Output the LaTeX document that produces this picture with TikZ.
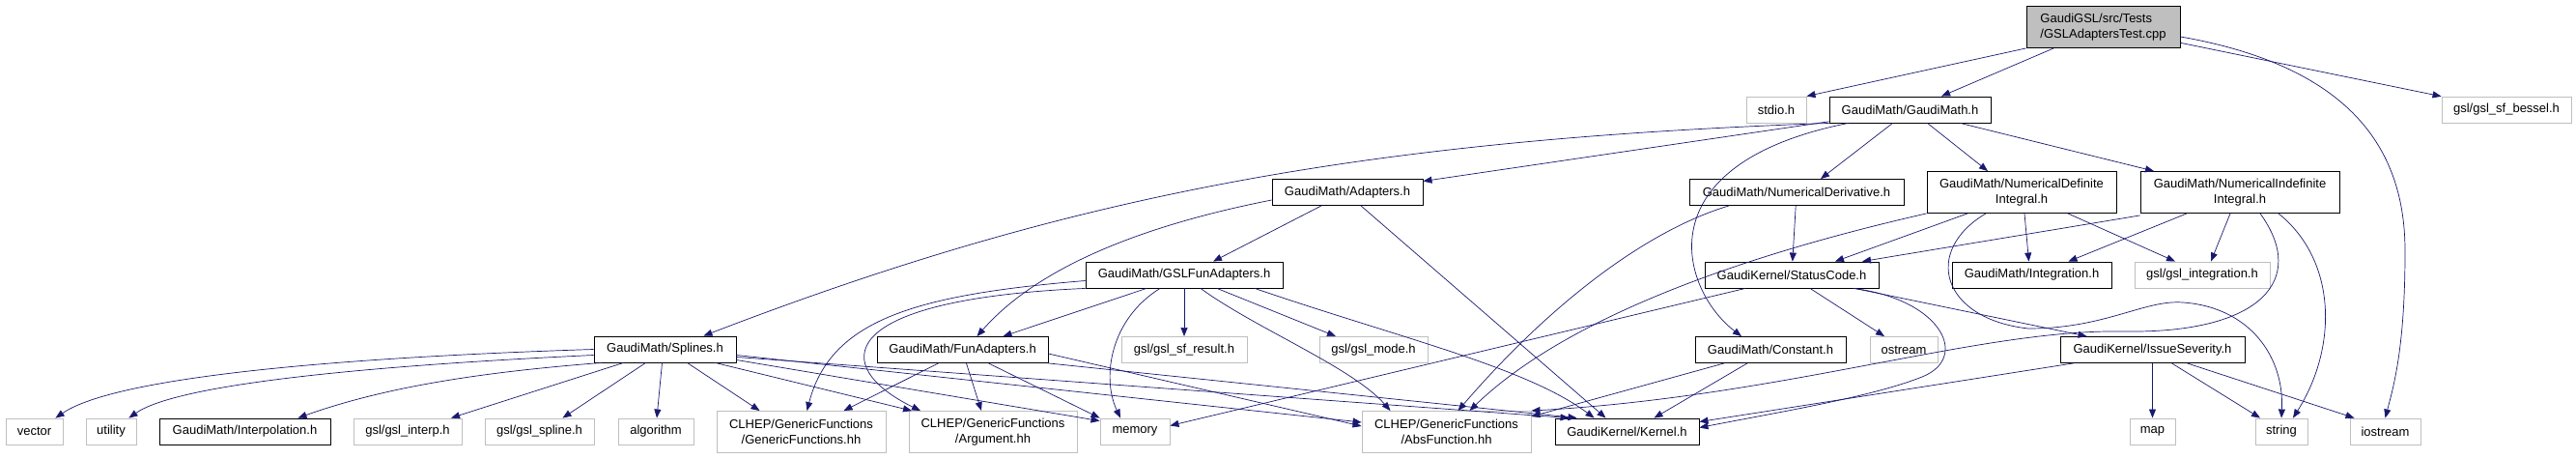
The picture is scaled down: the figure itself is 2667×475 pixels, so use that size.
\documentclass[tikz,border=0pt]{standalone}
\usepackage{fontspec}
\setmainfont{Liberation Sans}
\usepackage{tikz}
\usetikzlibrary{arrows.meta}
\definecolor{edgeblue}{HTML}{191970}
\definecolor{extgray}{HTML}{BFBFBF}

\begin{document}
\begin{tikzpicture}[x=1bp,y=-1bp]
\tikzset{file/.style={draw=black,line width=0.9bp,inner sep=0pt,minimum height=27bp,align=center,font=\fontsize{13bp}{16bp}\selectfont}}
\tikzset{twoline/.style={minimum height=43bp}}
\tikzset{sysfile/.style={file,draw=extgray}}
\tikzset{inc/.style={draw=edgeblue,line width=0.7bp,-{Triangle[length=9bp,width=7bp]}}}
\useasboundingbox (0,0) rectangle (2667,475);
\node[file,twoline,fill=extgray,minimum width=159bp,align=left] (cpp) at (2177.5,28) {GaudiGSL/src/Tests\\/GSLAdaptersTest.cpp};
\node[sysfile,minimum width=62bp] (stdio) at (1839,113.5) {stdio.h};
\node[file,minimum width=167bp] (gaudimath) at (1977.5,113.5) {GaudiMath/GaudiMath.h};
\node[sysfile,minimum width=134bp] (bessel) at (2595,113.5) {gsl/gsl\_sf\_bessel.h};
\node[file,minimum width=156bp] (adapters) at (1395,199) {GaudiMath/Adapters.h};
\node[file,minimum width=222bp] (numderiv) at (1860,199) {GaudiMath/NumericalDerivative.h};
\node[file,twoline,minimum width=196bp] (numdef) at (2093,199) {GaudiMath/NumericalDefinite\\Integral.h};
\node[file,twoline,minimum width=206bp] (numindef) at (2319,199) {GaudiMath/NumericalIndefinite\\Integral.h};
\node[file,minimum width=204bp] (gslfun) at (1226,284.5) {GaudiMath/GSLFunAdapters.h};
\node[file,minimum width=180bp] (statuscode) at (1855,284.5) {GaudiKernel/StatusCode.h};
\node[file,minimum width=165bp] (integration) at (2103.5,284.5) {GaudiMath/Integration.h};
\node[sysfile,minimum width=140bp] (gslinteg) at (2280,284.5) {gsl/gsl\_integration.h};
\node[file,minimum width=147bp] (splines) at (688.5,361.5) {GaudiMath/Splines.h};
\node[file,minimum width=177bp] (funadapt) at (996.5,362) {GaudiMath/FunAdapters.h};
\node[sysfile,minimum width=130bp] (sfresult) at (1226,362) {gsl/gsl\_sf\_result.h};
\node[sysfile,minimum width=112bp] (gslmode) at (1422,362) {gsl/gsl\_mode.h};
\node[file,minimum width=156bp] (constant) at (1833,362) {GaudiMath/Constant.h};
\node[sysfile,minimum width=70bp] (ostream) at (1971,362) {ostream};
\node[file,minimum width=191bp] (severity) at (2228.5,362) {GaudiKernel/IssueSeverity.h};
\node[sysfile,minimum width=59bp] (vector) at (35.5,446.5) {vector};
\node[sysfile,minimum width=52bp] (utility) at (115,446.5) {utility};
\node[file,minimum width=177bp] (interpolation) at (253.5,446.5) {GaudiMath/Interpolation.h};
\node[sysfile,minimum width=112bp] (gslinterp) at (422,446.5) {gsl/gsl\_interp.h};
\node[sysfile,minimum width=113bp] (gslspline) at (558.5,446.5) {gsl/gsl\_spline.h};
\node[sysfile,minimum width=78bp] (algorithm) at (679,446.5) {algorithm};
\node[sysfile,twoline,minimum width=175bp] (genfun) at (829.5,447) {CLHEP/GenericFunctions\\/GenericFunctions.hh};
\node[sysfile,twoline,minimum width=174bp] (argument) at (1028,447) {CLHEP/GenericFunctions\\/Argument.hh};
\node[sysfile,minimum width=72bp] (memory) at (1175,446.5) {memory};
\node[sysfile,twoline,minimum width=175bp] (absfun) at (1497.5,447) {CLHEP/GenericFunctions\\/AbsFunction.hh};
\node[file,minimum width=149bp] (kernel) at (1684.5,446.5) {GaudiKernel/Kernel.h};
\node[sysfile,minimum width=47bp] (map) at (2228.5,446.5) {map};
\node[sysfile,minimum width=54bp] (string) at (2362,446.5) {string};
\node[sysfile,minimum width=73bp] (iostream) at (2469.5,446.5) {iostream};

\draw[inc] (cpp.south west) -- (stdio.north east);
\draw[inc] (cpp) -- (gaudimath);
\draw[inc] (cpp) -- (bessel);
\draw[inc] ([yshift=-10bp]cpp.east) .. controls (2440,70) and (2490,160) .. (2490,260) .. controls (2490,360) and (2478,400) .. (iostream.north);

\draw[inc] (gaudimath.south west) .. controls (1400,145) and (1100,205) .. ([xshift=-34bp]splines.north east);
\draw[inc] (gaudimath) -- (adapters);
\draw[inc] ([xshift=-18bp]gaudimath.south) -- ([xshift=25bp]numderiv.north);
\draw[inc] ([xshift=18bp]gaudimath.south) -- ([xshift=-35bp]numdef.north);
\draw[inc] ([xshift=52bp]gaudimath.south) -- ([xshift=-89bp]numindef.north);
\draw[inc] ([xshift=-64bp]gaudimath.south) .. controls (1700,170) and (1740,300) .. ([xshift=-30bp]constant.north);

\draw[inc] ([xshift=-27bp]adapters.south) -- ([xshift=30bp]gslfun.north);
\draw[inc] ([yshift=-8bp]adapters.west) .. controls (1200,230) and (1080,270) .. ([xshift=15bp]funadapt.north);
\draw[inc] ([xshift=14bp]adapters.south) -- ([xshift=-22bp]kernel.north);

\draw[inc] (numderiv) -- (statuscode);
\draw[inc] ([xshift=-70bp]numderiv.south) .. controls (1700,240) and (1600,320) .. ([xshift=12bp]absfun.north);

\draw[inc] ([xshift=-56bp]numdef.south) -- ([xshift=45bp]statuscode.north);
\draw[inc] (numdef.south west) .. controls (1800,265) and (1620,330) .. ([xshift=24bp]absfun.north);
\draw[inc] ([xshift=3bp]numdef.south) -- ([xshift=-3bp]integration.north);
\draw[inc] ([xshift=48bp]numdef.south) -- ([xshift=-28bp]gslinteg.north);
\draw[inc] ([xshift=-37bp]numdef.south) .. controls (1990,260) and (2010,330) .. (2100,340) .. controls (2180,340) and (2220,310) .. (2260,313) .. controls (2330,318) and (2365,370) .. (string.north);

\draw[inc] ([yshift=-2bp]numindef.south west) -- ([xshift=73bp]statuscode.north);
\draw[inc] ([xshift=-55bp]numindef.south) -- ([xshift=38bp]integration.north);
\draw[inc] ([xshift=-10bp]numindef.south) -- ([xshift=9bp]gslinteg.north);
\draw[inc] ([xshift=21bp]numindef.south) .. controls (2390,290) and (2340,345) .. (2200,343) .. controls (2050,340) and (1850,410) .. (absfun.north east);
\draw[inc] ([xshift=40bp]numindef.south) .. controls (2420,270) and (2420,360) .. ([xshift=12bp]string.north);

\draw[inc] ([xshift=-48bp]statuscode.south) -- ([yshift=6bp]memory.east);
\draw[inc] ([xshift=19bp]statuscode.south) -- ([xshift=-20bp]ostream.north);
\draw[inc] ([xshift=65bp]statuscode.south) -- ([xshift=-68bp]severity.north);
\draw[inc] ([xshift=64bp]statuscode.south) .. controls (2010,310) and (2040,370) .. (1990,390) .. controls (1940,410) and (1850,425) .. ([yshift=4bp]kernel.east);

\draw[inc] ([xshift=-48bp]constant.south) -- ([yshift=-6bp]absfun.north east);
\draw[inc] ([xshift=-24bp]constant.south) -- ([xshift=28bp]kernel.north);

\draw[inc] ([xshift=-82bp]severity.south) -- ([yshift=10bp]kernel.east);
\draw[inc] (severity) -- (map);
\draw[inc] ([xshift=20bp]severity.south) -- ([xshift=-22bp]string.north);
\draw[inc] ([xshift=36bp]severity.south) -- ([xshift=-32bp]iostream.north);

\draw[inc] ([xshift=-39bp]gslfun.south) -- ([xshift=42bp]funadapt.north);
\draw[inc] (gslfun) -- (sfresult);
\draw[inc] ([xshift=34bp]gslfun.south) -- ([xshift=-39bp]gslmode.north);
\draw[inc] ([xshift=17bp]gslfun.south) .. controls (1300,340) and (1400,380) .. ([xshift=-58bp]absfun.north);
\draw[inc] ([xshift=73bp]gslfun.south) .. controls (1450,350) and (1580,380) .. ([xshift=-34bp]kernel.north);
\draw[inc] ([xshift=-25bp]gslfun.south) .. controls (1150,330) and (1140,390) .. ([xshift=-15bp]memory.north);
\draw[inc] ([yshift=-6bp]gslfun.west) .. controls (950,305) and (860,330) .. ([xshift=6bp]genfun.north);
\draw[inc] (gslfun.south west) .. controls (860,310) and (860,380) .. ([xshift=-75bp]argument.north);

\draw[inc] ([xshift=-25bp]funadapt.south) -- ([xshift=44bp]genfun.north);
\draw[inc] ([xshift=4bp]funadapt.south) -- ([xshift=-12bp]argument.north);
\draw[inc] ([xshift=27bp]funadapt.south) -- (memory.north west);
\draw[inc] ([yshift=-4bp]funadapt.east) -- ([yshift=6bp]absfun.west);
\draw[inc] (funadapt.south east) -- ([xshift=-52bp]kernel.north);

\draw[inc] (splines.west) .. controls (350,370) and (120,390) .. ([xshift=-8bp]vector.north east);
\draw[inc] ([yshift=-6bp]splines.west) .. controls (350,380) and (180,400) .. ([xshift=-8bp]utility.north east);
\draw[inc] ([xshift=-66bp]splines.south) .. controls (500,385) and (400,400) .. ([xshift=55bp]interpolation.north);
\draw[inc] ([xshift=-43bp]splines.south) -- ([xshift=45bp]gslinterp.north);
\draw[inc] ([xshift=-20bp]splines.south) -- ([xshift=24bp]gslspline.north);
\draw[inc] ([xshift=-3bp]splines.south) -- ([xshift=1bp]algorithm.north);
\draw[inc] ([xshift=23bp]splines.south) -- ([xshift=-43bp]genfun.north);
\draw[inc] ([xshift=52bp]splines.south) -- ([xshift=-84bp]argument.north);
\draw[inc] ([yshift=-11bp]splines.east) -- ([yshift=-3bp]memory.north west);
\draw[inc] ([yshift=-6bp]splines.east) -- ([yshift=10bp]absfun.west);
\draw[inc] ([yshift=-8bp]splines.east) -- ([xshift=-60bp]kernel.north);
\end{tikzpicture}
\end{document}
